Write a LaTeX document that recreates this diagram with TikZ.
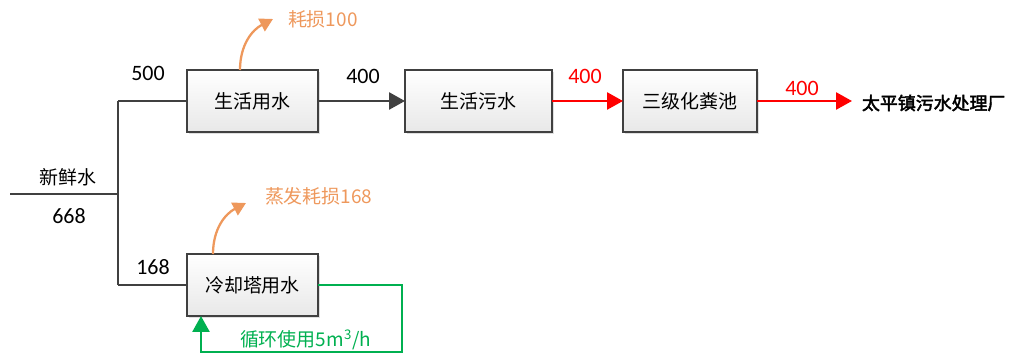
\documentclass[tikz,border=0pt]{standalone}
\usepackage{fontspec}
\setmainfont{Carlito}
\newfontfamily\cjk[AutoFakeBold=2.5]{Noto Sans CJK SC}
\usetikzlibrary{arrows.meta,shadows}
\definecolor{c404040}{RGB}{64,64,64}
\definecolor{cebebeb}{RGB}{232,232,232}
\definecolor{cf0985a}{RGB}{238,152,92}
\definecolor{cff0000}{RGB}{255,0,0}
\definecolor{c00b050}{RGB}{0,176,80}
\definecolor{c000000}{RGB}{0,0,0}

\begin{document}
\begin{tikzpicture}[x=0.2mm, y=-0.2mm, inner sep=0pt, outer sep=0pt,
  box/.style={draw=c404040, line width=1.5pt, top color=white, bottom color=cebebeb,
    drop shadow={opacity=0.25, shadow xshift=1.2pt, shadow yshift=-1.2pt},
    minimum width=26.2mm, minimum height=12.4mm, font=\cjk\fontsize{10.8}{13}\selectfont},
  num/.style={font=\fontsize{12.5}{14}\selectfont},
  pipe/.style={draw=c404040, line width=1.5pt},
  tip/.style={-{Triangle[length=3.2mm, width=3.4mm]}},
  loss/.style={draw=cf0985a, line width=1.3pt, -{Triangle[length=2.6mm, width=2.8mm]}}]
  \useasboundingbox (0,0) rectangle (1016,356);

  % boxes
  \node[box] (shyongshui) at (252.5,101){生活用水};
  \node[box, minimum width=29.4mm] (shwushui) at (478.5,101){生活污水};
  \node[box, minimum width=26.8mm] (huafenchi) at (690,101){三级化粪池};
  \node[box] (lqtyongshui) at (252.5,285){冷却塔用水};
  \node[anchor=west, font=\cjk\bfseries\fontsize{10.2}{13}\selectfont] (wsc) at (862,103){太平镇污水处理厂};

  % fresh water
  \coordinate (xinshui) at (10,194);
  \coordinate (jzhong) at (118,194);
  \coordinate (jshang) at (118,101);
  \coordinate (jxia) at (118,285);
  \path[pipe] (xinshui) -- (jzhong);
  \path[pipe] (jshang) -- (jxia);
  \path[pipe] (jshang) -- (shyongshui.west);
  \path[pipe] (jxia) -- (lqtyongshui.west);
  \node[font=\cjk\fontsize{10.8}{13}\selectfont] (txinshui) at (68,177){新鲜水};
  \node[num] (t668) at (69,216){668};
  \node[num] (t500) at (148,73){500};
  \node[num] (t168) at (153,267){168};

  % main line
  \path[pipe, tip] (shyongshui) -- (shwushui);
  \node[num] (t400a) at (363,76){400};
  \path[draw=cff0000, line width=1.5pt, tip] (shwushui) -- (huafenchi);
  \node[num, text=cff0000] (t400b) at (585,76){400};
  \coordinate (wscin) at (852,101);
  \path[draw=cff0000, line width=1.5pt, tip] (huafenchi) -- (wscin);
  \node[num, text=cff0000] (t400c) at (802,88){400};

  % losses
  \coordinate (hs0) at (240,70);
  \coordinate (hs1) at (273,19);
  \path[loss] (hs0) .. controls (240,45) and (252,30) .. (hs1);
  \node[anchor=west, text=cf0985a, font=\cjk\fontsize{10.8}{13}\selectfont] (thaosun) at (288,19){耗损100};
  \coordinate (zf0) at (213,254);
  \coordinate (zf1) at (246,203);
  \path[loss] (zf0) .. controls (213,229) and (225,214) .. (zf1);
  \node[anchor=west, text=cf0985a, font=\cjk\fontsize{10.8}{13}\selectfont] (tzhengfa) at (265,196){蒸发耗损168};

  % recycle loop
  \coordinate (xh1) at (402,285);
  \coordinate (xh2) at (402,352);
  \coordinate (xh3) at (201,352);
  \path[draw=c00b050, line width=1.5pt, tip] (lqtyongshui.east) -- (xh1) -- (xh2) -- (xh3) -- (lqtyongshui.south -| xh3);
  \node[anchor=west, text=c00b050, font=\cjk\fontsize{10.8}{13}\selectfont] (txunhuan) at (240,340){循环使用5m\textsuperscript{3}/h};

\end{tikzpicture}
\end{document}
